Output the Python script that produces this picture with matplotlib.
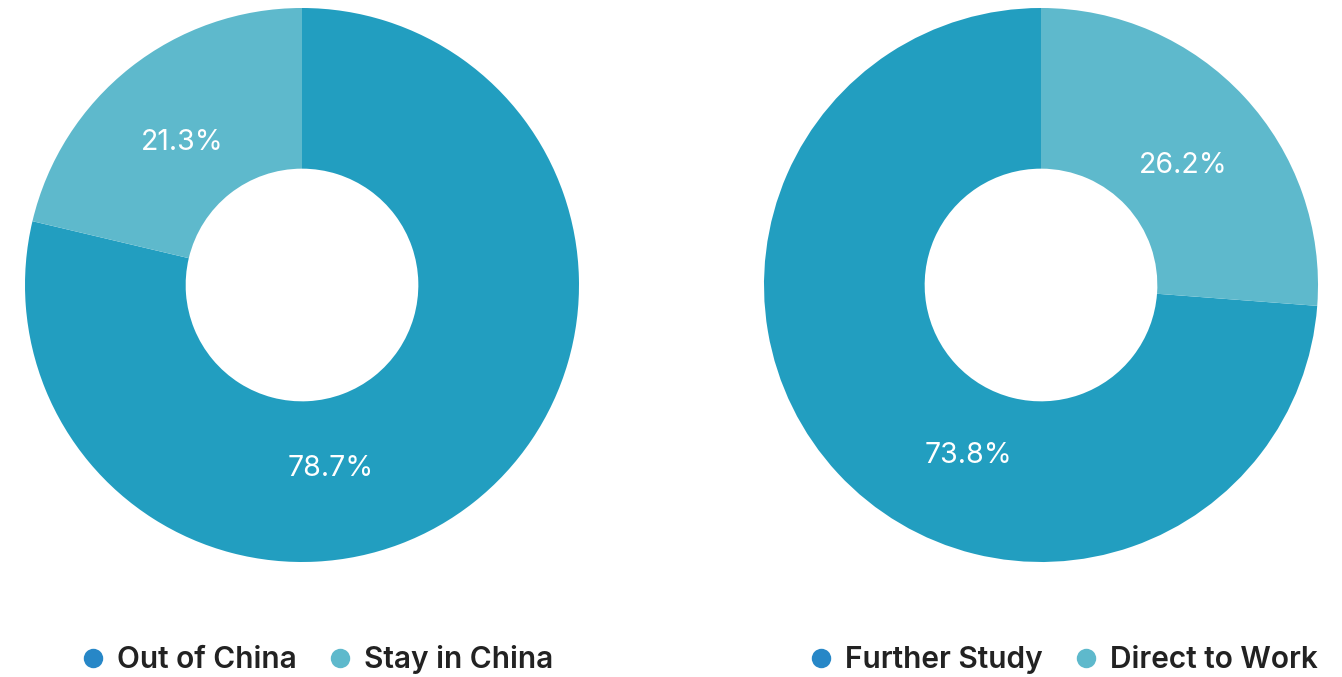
import numpy as np
import matplotlib.pyplot as plt
from matplotlib.lines import Line2D

# data
left_labels = ["Out of China", "Stay in China"]
left_values = [78.7, 21.3]
right_labels = ["Further Study", "Direct to Work"]
right_values = [73.8, 26.2]

WEDGE_COLORS = ["#229ec0", "#5eb9cc"]
LEGEND_COLORS = ["#2787c7", "#5eb9cc"]
W, H = 1342, 677
R_PX = 277
HOLE = 0.42

plt.rcParams["font.family"] = ["Inter", "DejaVu Sans"]

fig = plt.figure(figsize=(W / 100, H / 100), dpi=100)


def donut(cx, cy, values, labels, counterclock, label_angles, legend_cx):
    ax = fig.add_axes([(cx - R_PX) / W, (H - cy - R_PX) / H, 2 * R_PX / W, 2 * R_PX / H])
    ax.pie(values, colors=WEDGE_COLORS, startangle=90, counterclock=counterclock,
           radius=1, wedgeprops=dict(width=1 - HOLE, edgecolor="none"))
    ax.set_xlim(-1, 1)
    ax.set_ylim(-1, 1)
    ax.axis("off")
    for v, ang in zip(values, label_angles):
        a = np.deg2rad(ang)
        ax.text(0.67 * np.cos(a), 0.67 * np.sin(a), f"{v:.1f}%", color="white",
                fontsize=20.5, ha="center", va="center")
    handles = [Line2D([], [], marker="o", linestyle="none", markersize=14,
                      markerfacecolor=c, markeredgecolor="none") for c in LEGEND_COLORS]
    fig.legend(handles, labels, loc="center", bbox_to_anchor=(legend_cx / W, 1 - 660 / H),
               ncol=2, frameon=False, handlelength=0.7, handletextpad=0.45,
               columnspacing=1.1,
               prop=dict(family=["Inter", "DejaVu Sans"], weight="semibold", size=21.5),
               labelcolor="#222222")
    return ax


donut(302, 285, left_values, left_labels, False, [-81, 130], 318)
donut(1041, 285, right_values, right_labels, True, [-113, 40], 1064)

fig.savefig("out.png", dpi=100)
